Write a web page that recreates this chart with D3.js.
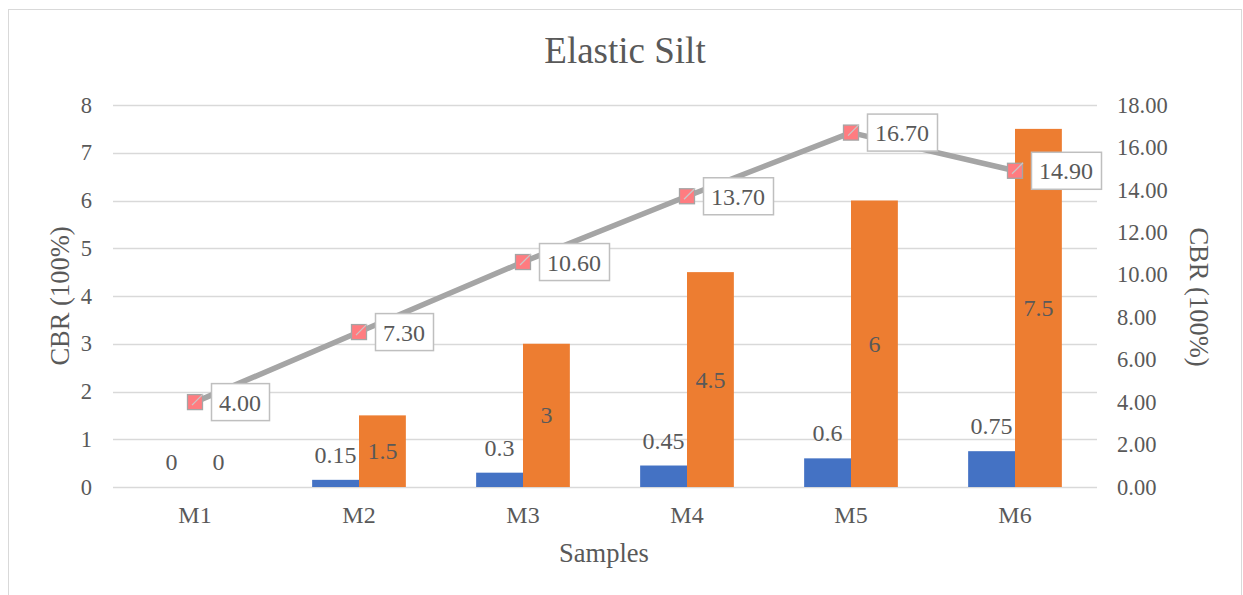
<!DOCTYPE html>
<html>
<head>
<meta charset="utf-8">
<script src="https://cdn.jsdelivr.net/npm/d3@7/dist/d3.min.js"></script>
<style>
  html, body { margin: 0; padding: 0; background: #fff; }
  svg text { font-family: "Liberation Serif", "Times New Roman", serif; fill: #595959; }
</style>
</head>
<body>
<svg id="chart" width="1243" height="595"></svg>
<script>
// Sample names and measured values
const categories = ["M1", "M2", "M3", "M4", "M5", "M6"];
const blueValues = [0, 0.15, 0.3, 0.45, 0.6, 0.75];
const orangeValues = [0, 1.5, 3, 4.5, 6, 7.5];
const lineValues = [4.0, 7.3, 10.6, 13.7, 16.7, 14.9];
const leftTicks = [0, 1, 2, 3, 4, 5, 6, 7, 8];
const rightTicks = [0, 2, 4, 6, 8, 10, 12, 14, 16, 18];

const svg = d3.select("#chart");
const W = 1243, H = 595;
const plot = { left: 113, right: 1097, top: 105, bottom: 487 };
const serif = '"Liberation Serif", "Times New Roman", serif';

// outer chart frame
svg.append("rect")
  .attr("x", 8.5).attr("y", 9.5).attr("width", W - 10).attr("height", H + 10)
  .attr("fill", "#fff").attr("stroke", "#D9D9D9").attr("stroke-width", 1);

const x = d3.scaleBand().domain(categories).range([plot.left, plot.right]).paddingInner(0).paddingOuter(0);
const yL = d3.scaleLinear().domain([0, 8]).range([plot.bottom, plot.top]);
const yR = d3.scaleLinear().domain([0, 18]).range([plot.bottom, plot.top]);

// gridlines
svg.append("g").selectAll("line").data(leftTicks).join("line")
  .attr("x1", plot.left).attr("x2", plot.right)
  .attr("y1", d => Math.round(yL(d)) + 0.5).attr("y2", d => Math.round(yL(d)) + 0.5)
  .attr("stroke", "#D9D9D9").attr("stroke-width", 1.3);

// left axis labels
const leftAxis = d3.axisLeft(yL).tickValues(leftTicks).tickSize(0).tickPadding(0).tickFormat(d3.format("d"));
const gL = svg.append("g").attr("transform", `translate(${plot.left - 21},0)`).call(leftAxis);
gL.select(".domain").remove();
gL.selectAll("text").attr("font-size", 22.5).attr("fill", "#595959").style("font-family", serif);

// right axis labels
const rightAxis = d3.axisRight(yR).tickValues(rightTicks).tickSize(0).tickPadding(0).tickFormat(d3.format(".2f"));
const gR = svg.append("g").attr("transform", `translate(${plot.right + 20},0)`).call(rightAxis);
gR.select(".domain").remove();
gR.selectAll("text").attr("font-size", 22.5).attr("fill", "#595959").style("font-family", serif);

// category axis
const bottomAxis = d3.axisBottom(x).tickSize(0).tickPadding(0);
const gB = svg.append("g").attr("transform", `translate(0,${plot.bottom + 36})`).call(bottomAxis);
gB.select(".domain").remove();
gB.selectAll("text").attr("font-size", 24).attr("fill", "#595959").attr("dy", 0)
  .style("font-family", serif);

// bars
const barW = x.bandwidth() * 0.2857;
const bars = svg.append("g");
bars.selectAll("rect.blue").data(categories).join("rect").attr("class", "blue")
  .attr("x", d => x(d) + x.bandwidth() / 2 - barW)
  .attr("width", barW)
  .attr("y", (d, i) => yL(blueValues[i]))
  .attr("height", (d, i) => plot.bottom - yL(blueValues[i]))
  .attr("fill", "#4472C4");
bars.selectAll("rect.orange").data(categories).join("rect").attr("class", "orange")
  .attr("x", d => x(d) + x.bandwidth() / 2)
  .attr("width", barW)
  .attr("y", (d, i) => yL(orangeValues[i]))
  .attr("height", (d, i) => plot.bottom - yL(orangeValues[i]))
  .attr("fill", "#ED7D31");

// bar labels
const lab = svg.append("g").attr("font-size", 24);
lab.selectAll("text.bl").data(categories).join("text").attr("class", "bl")
  .attr("x", d => x(d) + x.bandwidth() / 2 - barW / 2)
  .attr("y", (d, i) => yL(blueValues[i]) - 17)
  .attr("text-anchor", "middle").attr("fill", "#404040")
  .text((d, i) => blueValues[i]);
lab.selectAll("text.ol").data(categories).join("text").attr("class", "ol")
  .attr("x", d => x(d) + x.bandwidth() / 2 + barW / 2)
  .attr("y", (d, i) => orangeValues[i] === 0 ? yL(0) - 17
      : (yL(orangeValues[i]) + plot.bottom) / 2 + 8)
  .attr("text-anchor", "middle").attr("fill", "#404040")
  .text((d, i) => orangeValues[i]);

// line series on secondary axis
const cx = d => x(d) + x.bandwidth() / 2;
const line = d3.line().x(d => cx(d.c)).y(d => yR(d.v));
const pts = categories.map((c, i) => ({ c, v: lineValues[i] }));
svg.append("path").datum(pts).attr("d", line)
  .attr("fill", "none").attr("stroke", "#A5A5A5").attr("stroke-width", 5.5).attr("stroke-linejoin", "round");

const mk = svg.append("g");
mk.selectAll("rect").data(pts).join("rect")
  .attr("x", d => cx(d.c) - 7.5).attr("y", d => yR(d.v) - 7.5)
  .attr("width", 15).attr("height", 15)
  .attr("fill", "#FF7C80").attr("stroke", "#A5A5A5").attr("stroke-width", 1.3);
// leader lines from labels into markers
mk.selectAll("line").data(pts).join("line")
  .attr("x1", d => cx(d.c) - 3).attr("y1", d => yR(d.v) + 3)
  .attr("x2", d => cx(d.c) + 8).attr("y2", d => yR(d.v) - 8)
  .attr("stroke", "#C8C8C8").attr("stroke-width", 1.2);

// callout labels
const call = svg.append("g");
pts.forEach(d => {
  const g = call.append("g");
  const t = g.append("text")
    .attr("x", cx(d.c) + 24).attr("y", yR(d.v) + 8.5)
    .attr("font-size", 24).attr("fill", "#404040")
    .text(d3.format(".2f")(d.v));
  const bb = t.node().getBBox();
  g.insert("rect", "text")
    .attr("x", cx(d.c) + 16.5).attr("y", yR(d.v) - 18.5)
    .attr("width", bb.width + 16).attr("height", 37)
    .attr("fill", "#fff").attr("stroke", "#BFBFBF").attr("stroke-width", 1.5);
});

// titles
svg.append("text").attr("x", 625).attr("y", 63).attr("text-anchor", "middle")
  .attr("font-size", 37).text("Elastic Silt");
svg.append("text").attr("x", 604).attr("y", 562).attr("text-anchor", "middle")
  .attr("font-size", 26.5).text("Samples");
svg.append("text").attr("transform", `translate(69,296) rotate(-90)`)
  .attr("text-anchor", "middle").attr("font-size", 26.5).text("CBR (100%)");
svg.append("text").attr("transform", `translate(1190,297) rotate(90)`)
  .attr("text-anchor", "middle").attr("font-size", 26.5).text("CBR (100%)");
</script>
</body>
</html>
